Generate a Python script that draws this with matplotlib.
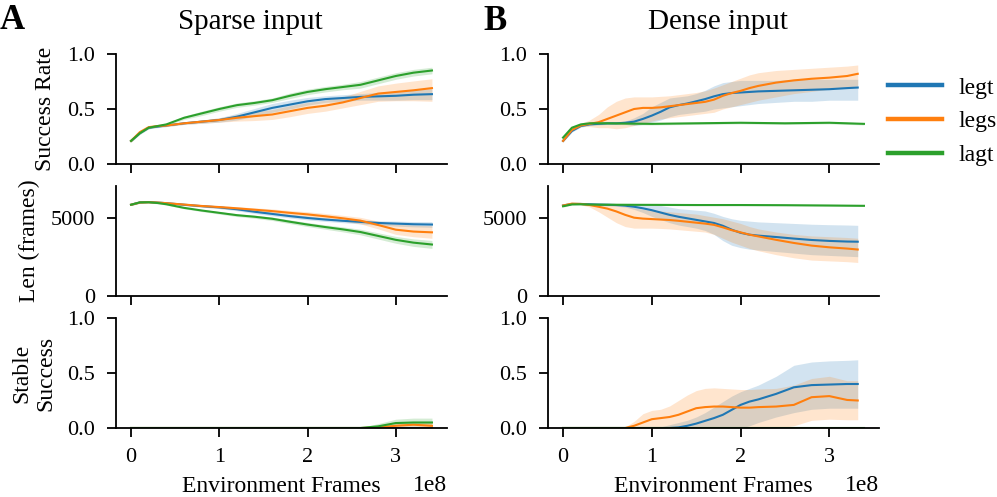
import numpy as np
import matplotlib
matplotlib.use("Agg")
import matplotlib.pyplot as plt
import matplotlib.transforms as mtransforms
from matplotlib.lines import Line2D

plt.rcParams['font.family'] = 'serif'
plt.rcParams['font.serif'] = ['Liberation Serif', 'DejaVu Serif']

# ---------------- data (x in units of 1e8 environment frames) ----------------
series_names = ['legt', 'legs', 'lagt']
series_colors = ['#1f77b4', '#ff7f0e', '#2ca02c']

# Sparse input
x_sparse = [0, 0.1, 0.2, 0.3, 0.4, 0.6, 0.8, 1.0, 1.2, 1.4, 1.6, 1.8, 2.0, 2.2, 2.4, 2.6, 2.8, 3.0, 3.2, 3.41]

sp_succ_legt = [0.21, 0.28, 0.33, 0.34, 0.35, 0.37, 0.385, 0.40, 0.43, 0.47, 0.51, 0.54, 0.57, 0.59, 0.60, 0.61, 0.615, 0.62, 0.63, 0.635]
sp_succ_legt_lo = [0.20, 0.27, 0.32, 0.33, 0.34, 0.36, 0.37, 0.38, 0.40, 0.435, 0.47, 0.50, 0.535, 0.56, 0.57, 0.58, 0.58, 0.58, 0.585, 0.585]
sp_succ_legt_hi = [0.22, 0.29, 0.34, 0.35, 0.36, 0.38, 0.40, 0.42, 0.46, 0.505, 0.55, 0.58, 0.605, 0.62, 0.63, 0.64, 0.65, 0.66, 0.675, 0.685]
sp_succ_legs = [0.21, 0.29, 0.335, 0.345, 0.35, 0.37, 0.385, 0.40, 0.42, 0.435, 0.45, 0.48, 0.51, 0.53, 0.56, 0.60, 0.64, 0.655, 0.67, 0.69]
sp_succ_legs_lo = [0.20, 0.28, 0.325, 0.335, 0.34, 0.36, 0.37, 0.38, 0.39, 0.395, 0.405, 0.43, 0.46, 0.48, 0.51, 0.54, 0.57, 0.575, 0.575, 0.57]
sp_succ_legs_hi = [0.22, 0.30, 0.345, 0.355, 0.36, 0.38, 0.40, 0.42, 0.45, 0.475, 0.495, 0.53, 0.56, 0.58, 0.61, 0.66, 0.71, 0.735, 0.755, 0.775]
sp_succ_lagt = [0.21, 0.28, 0.33, 0.345, 0.36, 0.42, 0.46, 0.50, 0.535, 0.555, 0.58, 0.62, 0.655, 0.68, 0.70, 0.72, 0.76, 0.80, 0.83, 0.85]
sp_succ_lagt_lo = [0.20, 0.27, 0.32, 0.335, 0.35, 0.405, 0.44, 0.48, 0.515, 0.535, 0.56, 0.595, 0.63, 0.655, 0.675, 0.69, 0.73, 0.77, 0.80, 0.82]
sp_succ_lagt_hi = [0.22, 0.29, 0.34, 0.355, 0.37, 0.435, 0.48, 0.52, 0.555, 0.575, 0.60, 0.645, 0.68, 0.705, 0.725, 0.75, 0.79, 0.83, 0.86, 0.88]

sp_len_legt = [5850, 6000, 6020, 5990, 5950, 5850, 5760, 5680, 5560, 5400, 5260, 5120, 5000, 4900, 4820, 4750, 4680, 4640, 4600, 4580]
sp_len_legt_lo = [5800, 5950, 5970, 5940, 5900, 5800, 5700, 5600, 5460, 5290, 5140, 5000, 4880, 4780, 4700, 4620, 4540, 4480, 4430, 4400]
sp_len_legt_hi = [5900, 6050, 6070, 6040, 6000, 5900, 5820, 5760, 5660, 5510, 5380, 5240, 5120, 5020, 4940, 4880, 4820, 4800, 4770, 4760]
sp_len_legs = [5850, 5990, 6010, 5990, 5950, 5860, 5770, 5700, 5620, 5530, 5440, 5330, 5230, 5110, 4980, 4830, 4550, 4250, 4130, 4080]
sp_len_legs_lo = [5800, 5940, 5960, 5940, 5900, 5800, 5700, 5610, 5520, 5410, 5300, 5180, 5060, 4930, 4790, 4620, 4300, 3950, 3800, 3700]
sp_len_legs_hi = [5900, 6040, 6060, 6040, 6000, 5920, 5840, 5790, 5720, 5650, 5580, 5480, 5400, 5290, 5170, 5040, 4800, 4600, 4550, 4500]
sp_len_lagt = [5850, 6000, 6010, 5960, 5880, 5650, 5480, 5330, 5180, 5080, 4950, 4760, 4580, 4420, 4270, 4100, 3850, 3600, 3420, 3300]
sp_len_lagt_lo = [5800, 5950, 5960, 5910, 5830, 5590, 5410, 5250, 5090, 4980, 4840, 4640, 4450, 4280, 4110, 3920, 3650, 3380, 3180, 3050]
sp_len_lagt_hi = [5900, 6050, 6060, 6010, 5930, 5710, 5550, 5410, 5270, 5180, 5060, 4880, 4710, 4560, 4430, 4280, 4050, 3820, 3660, 3560]

sp_stab_legt = [0, 0, 0, 0, 0, 0, 0, 0, 0, 0, 0, 0, 0, 0, 0, 0, 0, 0, 0, 0]
sp_stab_legt_lo = [0, 0, 0, 0, 0, 0, 0, 0, 0, 0, 0, 0, 0, 0, 0, 0, 0, 0, 0, 0]
sp_stab_legt_hi = [0, 0, 0, 0, 0, 0, 0, 0, 0, 0, 0, 0, 0, 0, 0, 0, 0, 0, 0.005, 0.005]
sp_stab_legs = [0, 0, 0, 0, 0, 0, 0, 0, 0, 0, 0, 0, 0, 0, 0, 0, 0.005, 0.02, 0.03, 0.02]
sp_stab_legs_lo = [0, 0, 0, 0, 0, 0, 0, 0, 0, 0, 0, 0, 0, 0, 0, 0, 0, 0, 0, 0]
sp_stab_legs_hi = [0, 0, 0, 0, 0, 0, 0, 0, 0, 0, 0, 0, 0, 0, 0, 0, 0.02, 0.04, 0.05, 0.05]
sp_stab_lagt = [0, 0, 0, 0, 0, 0, 0, 0, 0, 0, 0, 0, 0, 0, 0, 0, 0.015, 0.045, 0.05, 0.05]
sp_stab_lagt_lo = [0, 0, 0, 0, 0, 0, 0, 0, 0, 0, 0, 0, 0, 0, 0, 0, 0, 0.02, 0.02, 0.02]
sp_stab_lagt_hi = [0, 0, 0, 0, 0, 0, 0, 0, 0, 0, 0, 0, 0, 0, 0, 0.005, 0.04, 0.08, 0.09, 0.09]

# Dense input
x_dense = [0, 0.1, 0.2, 0.3, 0.4, 0.5, 0.6, 0.7, 0.8, 0.9, 1.0, 1.1, 1.2, 1.3, 1.4, 1.5, 1.6, 1.7, 1.8, 1.9, 2.0, 2.1, 2.2, 2.4, 2.6, 2.8, 3.0, 3.2, 3.32]
x_dense_lagt = [0, 0.1, 0.2, 0.3, 0.5, 1.0, 1.5, 2.0, 2.5, 3.0, 3.39]

de_succ_legt = [0.21, 0.30, 0.345, 0.36, 0.365, 0.37, 0.37, 0.375, 0.385, 0.41, 0.44, 0.475, 0.515, 0.535, 0.55, 0.57, 0.59, 0.615, 0.635, 0.645, 0.65, 0.655, 0.66, 0.665, 0.67, 0.675, 0.68, 0.69, 0.695]
de_succ_legt_lo = [0.20, 0.29, 0.335, 0.35, 0.355, 0.36, 0.36, 0.36, 0.35, 0.36, 0.38, 0.40, 0.43, 0.45, 0.46, 0.47, 0.48, 0.50, 0.51, 0.52, 0.53, 0.54, 0.55, 0.56, 0.57, 0.57, 0.58, 0.58, 0.58]
de_succ_legt_hi = [0.22, 0.31, 0.355, 0.37, 0.375, 0.38, 0.38, 0.39, 0.42, 0.46, 0.52, 0.56, 0.60, 0.61, 0.62, 0.64, 0.67, 0.71, 0.74, 0.75, 0.76, 0.76, 0.76, 0.76, 0.77, 0.77, 0.77, 0.77, 0.77]
de_succ_legs = [0.21, 0.31, 0.35, 0.365, 0.38, 0.41, 0.44, 0.47, 0.50, 0.51, 0.51, 0.515, 0.525, 0.535, 0.545, 0.555, 0.565, 0.585, 0.62, 0.645, 0.665, 0.69, 0.71, 0.74, 0.76, 0.775, 0.785, 0.80, 0.82]
de_succ_legs_lo = [0.20, 0.30, 0.34, 0.34, 0.33, 0.33, 0.32, 0.33, 0.35, 0.37, 0.39, 0.41, 0.42, 0.43, 0.44, 0.45, 0.46, 0.47, 0.50, 0.52, 0.54, 0.56, 0.58, 0.61, 0.64, 0.66, 0.68, 0.70, 0.71]
de_succ_legs_hi = [0.22, 0.32, 0.37, 0.40, 0.45, 0.52, 0.57, 0.60, 0.61, 0.61, 0.61, 0.615, 0.62, 0.63, 0.64, 0.65, 0.665, 0.69, 0.72, 0.75, 0.78, 0.81, 0.83, 0.85, 0.86, 0.87, 0.88, 0.89, 0.90]
de_succ_lagt = [0.24, 0.33, 0.36, 0.37, 0.37, 0.365, 0.37, 0.375, 0.37, 0.375, 0.365]
de_succ_lagt_lo = [0.23, 0.32, 0.35, 0.36, 0.36, 0.355, 0.36, 0.365, 0.36, 0.365, 0.355]
de_succ_lagt_hi = [0.25, 0.34, 0.37, 0.38, 0.38, 0.375, 0.38, 0.385, 0.38, 0.385, 0.375]

de_len_legt = [5800, 5900, 5900, 5880, 5860, 5850, 5830, 5790, 5720, 5620, 5500, 5350, 5200, 5080, 4980, 4880, 4780, 4680, 4500, 4250, 4050, 3930, 3870, 3780, 3680, 3590, 3530, 3490, 3480]
de_len_legt_lo = [5750, 5850, 5850, 5820, 5800, 5780, 5750, 5700, 5550, 5350, 5100, 4900, 4700, 4550, 4450, 4350, 4200, 3950, 3550, 3250, 3100, 3000, 2950, 2850, 2750, 2650, 2600, 2550, 2520]
de_len_legt_hi = [5850, 5950, 5950, 5940, 5920, 5910, 5900, 5870, 5850, 5850, 5850, 5800, 5700, 5600, 5550, 5500, 5450, 5300, 5100, 4950, 4850, 4800, 4750, 4700, 4650, 4600, 4570, 4550, 4530]
de_len_legs = [5800, 5920, 5900, 5830, 5720, 5600, 5420, 5200, 5020, 4960, 4930, 4900, 4870, 4820, 4760, 4700, 4640, 4560, 4400, 4220, 4080, 3930, 3820, 3600, 3400, 3230, 3120, 3040, 2980]
de_len_legs_lo = [5750, 5880, 5850, 5700, 5400, 5050, 4700, 4450, 4350, 4350, 4350, 4330, 4300, 4250, 4200, 4150, 4100, 3950, 3700, 3450, 3250, 3050, 2900, 2650, 2450, 2300, 2250, 2200, 2150]
de_len_legs_hi = [5850, 5960, 5950, 5920, 5880, 5850, 5800, 5750, 5650, 5550, 5500, 5450, 5400, 5350, 5300, 5250, 5150, 5050, 4950, 4800, 4650, 4450, 4300, 4100, 3950, 3850, 3800, 3750, 3700]
de_len_lagt = [5750, 5870, 5880, 5860, 5850, 5840, 5830, 5830, 5820, 5800, 5780]
de_len_lagt_lo = [5700, 5830, 5840, 5820, 5810, 5800, 5790, 5790, 5780, 5760, 5740]
de_len_lagt_hi = [5800, 5910, 5920, 5900, 5890, 5880, 5870, 5870, 5860, 5840, 5820]

de_stab_legt = [0, 0, 0, 0, 0, 0, 0, 0, 0, 0, 0, 0, 0, 0.005, 0.02, 0.04, 0.065, 0.09, 0.12, 0.165, 0.21, 0.24, 0.26, 0.31, 0.37, 0.39, 0.395, 0.40, 0.40]
de_stab_legt_lo = [0, 0, 0, 0, 0, 0, 0, 0, 0, 0, 0, 0, 0, 0, 0, 0, 0, 0, 0, 0, 0, 0.02, 0.05, 0.10, 0.14, 0.17, 0.18, 0.18, 0.18]
de_stab_legt_hi = [0, 0, 0, 0, 0, 0, 0, 0, 0, 0, 0, 0.01, 0.03, 0.05, 0.07, 0.10, 0.14, 0.19, 0.24, 0.29, 0.33, 0.36, 0.39, 0.47, 0.57, 0.60, 0.61, 0.615, 0.62]
de_stab_legs = [0, 0, 0, 0, 0, 0, 0, 0, 0.02, 0.05, 0.08, 0.09, 0.10, 0.12, 0.15, 0.18, 0.19, 0.195, 0.195, 0.19, 0.185, 0.185, 0.19, 0.195, 0.21, 0.28, 0.29, 0.255, 0.25]
de_stab_legs_lo = [0, 0, 0, 0, 0, 0, 0, 0, 0, 0, 0, 0, 0, 0, 0, 0, 0, 0, 0, 0, 0, 0, 0, 0, 0.02, 0.07, 0.08, 0.075, 0.075]
de_stab_legs_hi = [0, 0, 0, 0, 0, 0, 0, 0.01, 0.06, 0.13, 0.16, 0.17, 0.20, 0.25, 0.30, 0.34, 0.36, 0.365, 0.36, 0.355, 0.35, 0.35, 0.355, 0.36, 0.39, 0.45, 0.47, 0.43, 0.43]
de_stab_lagt = [0, 0, 0, 0, 0, 0, 0, 0, 0, 0, 0]
de_stab_lagt_lo = [0, 0, 0, 0, 0, 0, 0, 0, 0, 0, 0]
de_stab_lagt_hi = [0, 0, 0, 0, 0, 0, 0, 0, 0, 0, 0]

row_labels = ['Success Rate', 'Len (frames)', 'Stable\nSuccess']
col_titles = ['Sparse input', 'Dense input']
panel_letters = ['A', 'B']
x_label = 'Environment Frames'
x_offset_label = '1e8'

sparse_rows = [
    [(x_sparse, sp_succ_legt, sp_succ_legt_lo, sp_succ_legt_hi),
     (x_sparse, sp_succ_legs, sp_succ_legs_lo, sp_succ_legs_hi),
     (x_sparse, sp_succ_lagt, sp_succ_lagt_lo, sp_succ_lagt_hi)],
    [(x_sparse, sp_len_legt, sp_len_legt_lo, sp_len_legt_hi),
     (x_sparse, sp_len_legs, sp_len_legs_lo, sp_len_legs_hi),
     (x_sparse, sp_len_lagt, sp_len_lagt_lo, sp_len_lagt_hi)],
    [(x_sparse, sp_stab_legt, sp_stab_legt_lo, sp_stab_legt_hi),
     (x_sparse, sp_stab_legs, sp_stab_legs_lo, sp_stab_legs_hi),
     (x_sparse, sp_stab_lagt, sp_stab_lagt_lo, sp_stab_lagt_hi)],
]
dense_rows = [
    [(x_dense, de_succ_legt, de_succ_legt_lo, de_succ_legt_hi),
     (x_dense, de_succ_legs, de_succ_legs_lo, de_succ_legs_hi),
     (x_dense_lagt, de_succ_lagt, de_succ_lagt_lo, de_succ_lagt_hi)],
    [(x_dense, de_len_legt, de_len_legt_lo, de_len_legt_hi),
     (x_dense, de_len_legs, de_len_legs_lo, de_len_legs_hi),
     (x_dense_lagt, de_len_lagt, de_len_lagt_lo, de_len_lagt_hi)],
    [(x_dense, de_stab_legt, de_stab_legt_lo, de_stab_legt_hi),
     (x_dense, de_stab_legs, de_stab_legs_lo, de_stab_legs_hi),
     (x_dense_lagt, de_stab_lagt, de_stab_lagt_lo, de_stab_lagt_hi)],
]

# ---------------- figure ----------------
W, H = 997, 497
fig = plt.figure(figsize=(W / 100, H / 100), dpi=100)

col_left_px = [116, 548]
col_w_px = 331
row_top_px = [54, 186, 318]
row_h_px = 110

TICK_FS = 16
LABEL_FS = 17

ylims = [(0, 1.0), (0, 7050), (0, 1.0)]
yticks = [[0, 0.5, 1.0], [0, 5000], [0, 0.5, 1.0]]
yticklabels = [['0.0', '0.5', '1.0'], ['0', '5000'], ['0.0', '0.5', '1.0']]

for c, rows in enumerate([sparse_rows, dense_rows]):
    first = None
    for r, series in enumerate(rows):
        rect = [col_left_px[c] / W, 1 - (row_top_px[r] + row_h_px) / H, col_w_px / W, row_h_px / H]
        ax = fig.add_axes(rect, sharex=first)
        if first is None:
            first = ax
        for (xs, m, lo, hi), col in zip(series, series_colors):
            xv = np.asarray(xs) * 1e8
            ax.fill_between(xv, lo, hi, color=col, alpha=0.2, linewidth=0)
            ax.plot(xv, m, color=col, lw=1.5)
        ax.set_ylim(*ylims[r])
        ax.set_yticks(yticks[r])
        ax.set_yticklabels(yticklabels[r])
        for s in ['top', 'right']:
            ax.spines[s].set_visible(False)
        for s in ['left', 'bottom']:
            ax.spines[s].set_linewidth(1.3)
        ax.tick_params(axis='both', length=6.5, width=1.3, labelsize=TICK_FS)
        ax.tick_params(axis='x', pad=8)
        ax.tick_params(axis='y', pad=8.5)
        ax.set_xticks([0, 1e8, 2e8, 3e8])
        ax.xaxis.get_offset_text().set_visible(False)
        if r < 2:
            ax.tick_params(axis='x', labelbottom=False)
        else:
            ax.set_xlabel(x_label, fontsize=LABEL_FS, labelpad=6.5)
            trans = mtransforms.blended_transform_factory(ax.transAxes, fig.transFigure)
            ax.text(1.0, 6.0 / H, x_offset_label, transform=trans,
                    fontsize=LABEL_FS, ha='right', va='baseline')
        if c == 0:
            ax.set_ylabel(row_labels[r], fontsize=LABEL_FS, labelpad=8)

# column titles and panel letters
fig.text(250 / W, 1 - 29 / H, col_titles[0], fontsize=21, ha='center', va='baseline')
fig.text(718 / W, 1 - 29 / H, col_titles[1], fontsize=21, ha='center', va='baseline')
fig.text(0 / W, 1 - 29 / H, panel_letters[0], fontsize=25, fontweight='bold', ha='left', va='baseline')
fig.text(483 / W, 1 - 30 / H, panel_letters[1], fontsize=25, fontweight='bold', ha='left', va='baseline')

handles = [Line2D([0], [0], color=col, lw=3.2) for col in series_colors]
fig.legend(handles, series_names, loc='upper left', bbox_to_anchor=(888 / W, 1 - 77 / H),
           frameon=False, fontsize=LABEL_FS, handlelength=2.3, handletextpad=0.68,
           labelspacing=0.52, borderpad=0, borderaxespad=0)

fig.savefig('out.png', dpi=100)
